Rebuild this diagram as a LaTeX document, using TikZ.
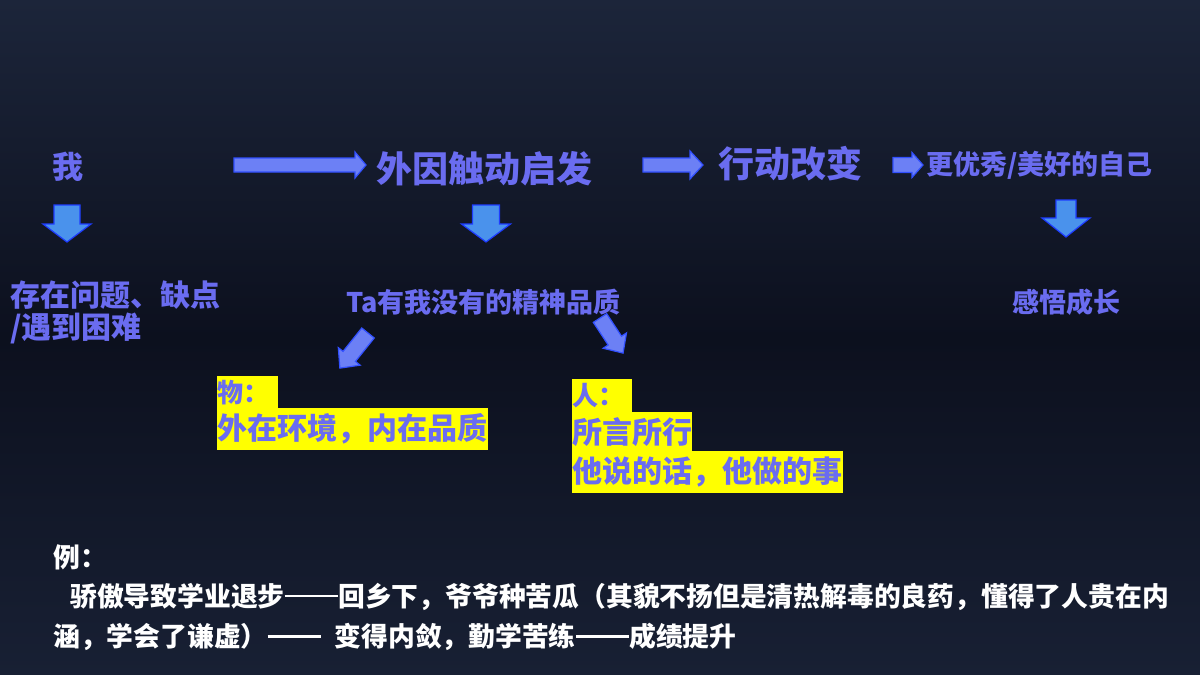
\documentclass[tikz,border=0pt]{standalone}
\usepackage{fontspec}
\setmainfont{Noto Sans CJK SC}
\newcommand\fsz[1]{\fontsize{#1}{#1}\selectfont}
\newcommand\cdash{\rule[0.34em]{2em}{0.11em}}
\newcommand\blockarr[7]{\draw[#1,shift={(#2)},rotate=#3] (0,-#5) -- ({#4-#7},-#5) -- ({#4-#7},-#6) -- (#4,0) -- ({#4-#7},#6) -- ({#4-#7},#5) -- (0,#5) -- cycle;}
\definecolor{bgtop}{RGB}{28,37,58}
\definecolor{bgmid}{RGB}{12,16,30}
\definecolor{bgbot}{RGB}{24,32,52}
\definecolor{txt}{RGB}{106,108,240}
\definecolor{harrfill}{RGB}{108,128,245}
\definecolor{harrline}{RGB}{50,80,255}
\definecolor{varrfill}{RGB}{74,146,236}
\definecolor{varrline}{RGB}{30,60,255}
\definecolor{hl}{RGB}{255,255,0}
\tikzset{
 lbl/.style={text=txt, inner sep=0pt, anchor=west},
 hbar/.style={fill=harrfill, draw=harrline, line width=1.2pt, line join=miter},
 vbar/.style={fill=varrfill, draw=varrline, line width=1.2pt, line join=miter},
 hlbox/.style={fill=hl, text=txt, inner xsep=0pt, inner ysep=0pt, anchor=north west, align=left},
 note/.style={text=white, inner sep=0pt, anchor=west, font=\bfseries\fsz{26.8}}
}
\begin{document}
\begin{tikzpicture}[x=1pt,y=-1pt]
\useasboundingbox (0,0) rectangle (1200,675);
\shade[top color=bgtop, bottom color=bgbot, middle color=bgmid] (0,0) rectangle (1200,675);

% top row
\node[lbl, font=\bfseries\fsz{31}] (wo) at (52,167) {我};
\node[lbl, font=\bfseries\fsz{36}] (wy) at (376,169) {外因触动启发};
\node[lbl, font=\bfseries\fsz{36}] (xd) at (718,164) {行动改变};
\node[lbl, font=\bfseries\fsz{27}] (gy) at (926,165) {更优秀/美好的自己};

% second row
\node[lbl, font=\bfseries\fsz{30}] (cz1) at (10,295) {存在问题、缺点};
\node[lbl, font=\bfseries\fsz{30}] (cz2) at (10,328) {/遇到困难};
\node[lbl, font=\bfseries\fsz{27}] (ta) at (346,302) {Ta有我没有的精神品质};
\node[lbl, font=\bfseries\fsz{27}] (gw) at (1012,302) {感悟成长};

% horizontal arrows
\blockarr{hbar}{234,165}{0}{132}{7}{13}{11}
\blockarr{hbar}{643,165}{0}{60}{7}{14}{13}
\blockarr{hbar}{893,165}{0}{30}{7.5}{12.5}{11}

% down arrows
\blockarr{vbar}{67,205}{-90}{37}{13}{24}{18}
\blockarr{vbar}{486,205}{-90}{37}{13.5}{24.5}{18}
\blockarr{vbar}{1066,200}{-90}{37}{10}{24}{19}

% diagonal arrows
\blockarr{hbar}{368,333}{-128.7}{45}{8}{14}{15}
\blockarr{hbar}{600,318}{-56.7}{42}{8}{14}{15}

% highlighted boxes
\node[hlbox, text width=61pt, minimum height=32pt, font=\bfseries\fsz{26}] (wu) at (217,376) {物：};
\node[hlbox, text width=271pt, minimum height=42pt, font=\bfseries\fsz{30}] (wuq) at (217,408) {外在环境，内在品质};
\node[hlbox, text width=60pt, minimum height=33pt, font=\bfseries\fsz{26}] (ren) at (572,379) {人：};
\node[hlbox, text width=120pt, minimum height=39pt, font=\bfseries\fsz{30}] (ren2) at (572,412) {所言所行};
\node[hlbox, text width=271pt, minimum height=42pt, font=\bfseries\fsz{30}] (ren3) at (572,451) {他说的话，他做的事};

% example
\node[note] (li) at (53,557) {例：};
\node[note] (l2) at (70,597) {骄傲导致学业退步\cdash 回乡下，爷爷种苦瓜（其貌不扬但是清热解毒的良药，懂得了人贵在内};
\node[note] (l3) at (53,637) {涵，学会了谦虚）\cdash\hspace{0.5em}变得内敛，勤学苦练\cdash 成绩提升};
\end{tikzpicture}
\end{document}
